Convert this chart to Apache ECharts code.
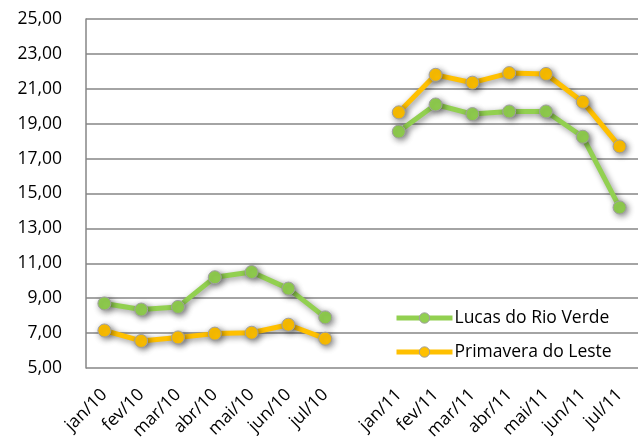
<!DOCTYPE html>
<html><head><meta charset="utf-8">
<script src="https://cdn.jsdelivr.net/npm/echarts@6/dist/echarts.min.js"></script>
<style>html,body{margin:0;padding:0;background:#fff}#c{width:642px;height:448px}</style>
</head><body><div id="c"></div>
<script>
var categories = ['jan/10','fev/10','mar/10','abr/10','mai/10','jun/10','jul/10','','jan/11','fev/11','mar/11','abr/11','mai/11','jun/11','jul/11'];
var lucasRioVerde = [8.7, 8.35, 8.5, 10.2, 10.5, 9.55, 7.9, '-', 18.55, 20.1, 19.55, 19.7, 19.7, 18.25, 14.2];
var primaveraLeste = [7.15, 6.55, 6.75, 6.97, 7.02, 7.48, 6.68, '-', 19.65, 21.8, 21.35, 21.9, 21.85, 20.25, 17.7];
var yMin = 5, yMax = 25, yStep = 2;

var font = '"Open Sans", "DejaVu Sans", sans-serif';
function mk(name, data, color) {
  return {
    name: name, type: 'line', data: data, connectNulls: false,
    symbol: 'circle', symbolSize: 13,
    lineStyle: { color: color, width: 5, shadowColor: 'rgba(0,0,0,0.45)', shadowBlur: 6, shadowOffsetX: 2, shadowOffsetY: 2 },
    itemStyle: { color: color, borderColor: '#a0a0a0', borderWidth: 1, shadowColor: 'rgba(0,0,0,0.45)', shadowBlur: 6, shadowOffsetX: 2, shadowOffsetY: 2 },
    emphasis: { disabled: true }
  };
}
var chart = echarts.init(document.getElementById('c'), null, { renderer: 'canvas' });
chart.setOption({
  animation: false,
  backgroundColor: '#fff',
  grid: { left: 86, right: 4, top: 19, bottom: 80, containLabel: false },
  legend: {
    orient: 'vertical', left: 389, top: 304, itemWidth: 56, itemHeight: 13, itemGap: 16,
    textStyle: { fontFamily: font, fontSize: 17.5, color: '#000', padding: [0,0,0,-3] },
    itemStyle: { borderColor: '#a0a0a0', borderWidth: 1 },
    lineStyle: { width: 5 },
    data: ['Lucas do Rio Verde', 'Primavera do Leste']
  },
  xAxis: {
    type: 'category', data: categories, boundaryGap: true,
    axisLine: { show: false }, axisTick: { show: false },
    axisLabel: { interval: 0, rotate: 45, fontFamily: font, fontSize: 17.5, color: '#000', margin: 24 }
  },
  yAxis: {
    type: 'value', min: yMin, max: yMax, interval: yStep,
    axisLine: { show: true, lineStyle: { color: '#868686', width: 1.5 } },
    axisTick: { show: false },
    splitLine: { lineStyle: { color: '#868686', width: 1.5 } },
    axisLabel: { fontFamily: font, fontSize: 17.5, color: '#000', margin: 24,
      formatter: function (v) { return v.toFixed(2).replace('.', ','); } }
  },
  series: [
    mk('Lucas do Rio Verde', lucasRioVerde, '#92D050'),
    mk('Primavera do Leste', primaveraLeste, '#FFC000')
  ]
});
</script></body></html>
